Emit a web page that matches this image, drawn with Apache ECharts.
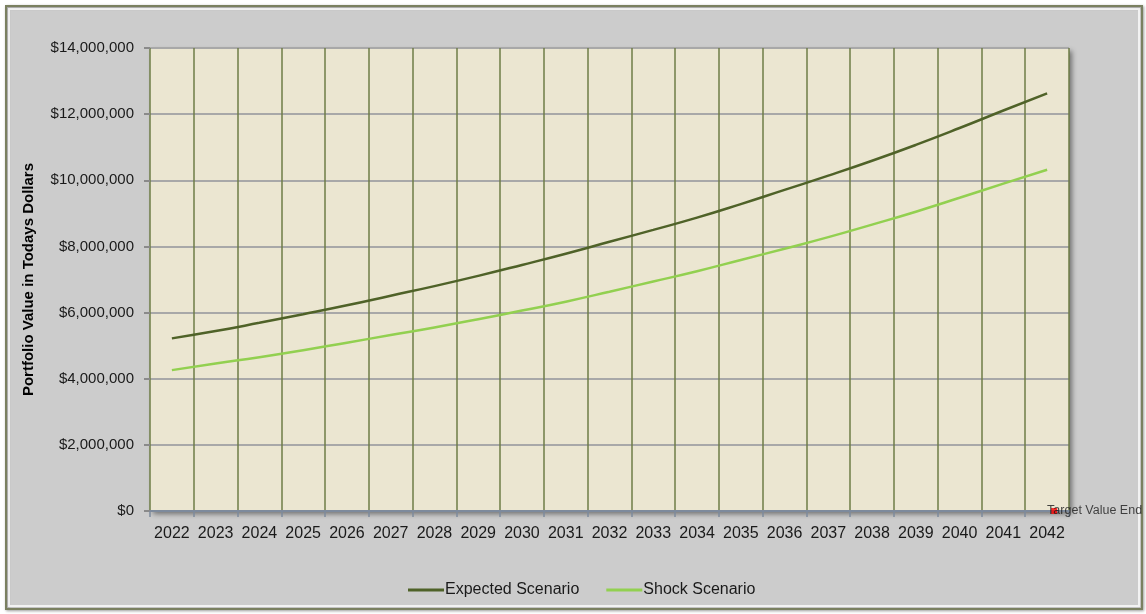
<!DOCTYPE html>
<html>
<head>
<meta charset="utf-8">
<script src="https://cdn.jsdelivr.net/npm/echarts@6/dist/echarts.min.js"></script>
<style>
html,body{margin:0;padding:0;background:#ffffff;}
#chart{width:1146px;height:614px;}
</style>
</head>
<body>
<div id="chart"></div>
<script>
var years = ['2022','2023','2024','2025','2026','2027','2028','2029','2030','2031','2032','2033','2034','2035','2036','2037','2038','2039','2040','2041','2042'];
var expectedScenario = [5220000,5440000,5690000,5950000,6220000,6510000,6800000,7110000,7440000,7780000,8140000,8500000,8870000,9280000,9710000,10140000,10590000,11070000,11580000,12110000,12630000];
var shockScenario = [4260000,4460000,4650000,4860000,5090000,5320000,5550000,5800000,6060000,6330000,6630000,6940000,7250000,7590000,7930000,8280000,8660000,9050000,9470000,9900000,10320000];
var targetValue = [null,null,null,null,null,null,null,null,null,null,null,null,null,null,null,null,null,null,null,null,0];
var yTicks = {min:0, max:14000000, interval:2000000};

var FONT = 'Liberation Sans';
var chart = echarts.init(document.getElementById('chart'), null, {renderer:'canvas'});
chart.setOption({
  animation:false,
  backgroundColor:'#ffffff',
  textStyle:{fontFamily:FONT},
  graphic:[
    {type:'rect', z:-10, shape:{x:6,y:6,width:1136,height:603},
     style:{fill:'#cccccc', stroke:'#7a8060', lineWidth:2,
            shadowColor:'rgba(0,0,0,0.3)', shadowBlur:3, shadowOffsetX:1, shadowOffsetY:1}},
    {type:'rect', z:-9, shape:{x:9,y:9,width:1130,height:597},
     style:{fill:'none', stroke:'rgba(255,255,255,0.75)', lineWidth:2}}
  ],
  grid:{left:150, right:77, top:48, bottom:103, show:true,
        backgroundColor:'#ebe6d1', borderWidth:0,
        shadowColor:'rgba(0,0,0,0.45)', shadowBlur:5, shadowOffsetX:3, shadowOffsetY:3},
  legend:{
    data:['Expected Scenario','Shock Scenario'],
    bottom:11, left:403, itemWidth:36, itemHeight:3, itemGap:27,
    icon:'rect',
    textStyle:{fontFamily:FONT, fontSize:16, color:'#1a1a1a', padding:[0,0,0,-4]}
  },
  xAxis:{
    type:'category', data:years, boundaryGap:true,
    axisLine:{show:true, lineStyle:{color:'#7d8a9c', width:2}},
    axisTick:{show:true, alignWithLabel:false, length:6, lineStyle:{color:'#7d8a9c', width:1.5}},
    axisLabel:{fontFamily:FONT, fontSize:16, color:'#1a1a1a', margin:15, interval:0},
    splitLine:{show:true, interval:0, lineStyle:{color:'#6e7d46', width:1.5}}
  },
  yAxis:{
    type:'value', min:yTicks.min, max:yTicks.max, interval:yTicks.interval,
    name:'Portfolio Value in Todays Dollars', nameLocation:'middle', nameGap:114,
    nameTextStyle:{fontFamily:FONT, fontSize:15, fontWeight:'bold', color:'#000000'},
    axisLine:{show:false},
    axisTick:{show:true, length:6, lineStyle:{color:'#8a8a8a', width:2}},
    axisLabel:{fontFamily:FONT, fontSize:15, color:'#1a1a1a', margin:16,
      formatter:function(v){return '$' + v.toLocaleString('en-US');}},
    splitLine:{show:true, lineStyle:{color:'#a8a8a8', width:2}}
  },
  series:[
    {name:'Expected Scenario', type:'line', data:expectedScenario, smooth:true, showSymbol:false,
     lineStyle:{color:'#4f6228', width:2.5}, itemStyle:{color:'#4f6228'}},
    {name:'Shock Scenario', type:'line', data:shockScenario, smooth:true, showSymbol:false,
     lineStyle:{color:'#92d050', width:2.5}, itemStyle:{color:'#92d050'}},
    {name:'Target Value', type:'scatter', data:targetValue, symbol:'rect', symbolSize:6,
     symbolOffset:[7,0], itemStyle:{color:'#ff0000'}, z:5,
     label:{show:true, formatter:'Target Value End', position:[-4,3], align:'left', verticalAlign:'middle',
       fontFamily:FONT, fontSize:12.5, color:'#1a1a1a'}}
  ]
});
</script>
</body>
</html>
